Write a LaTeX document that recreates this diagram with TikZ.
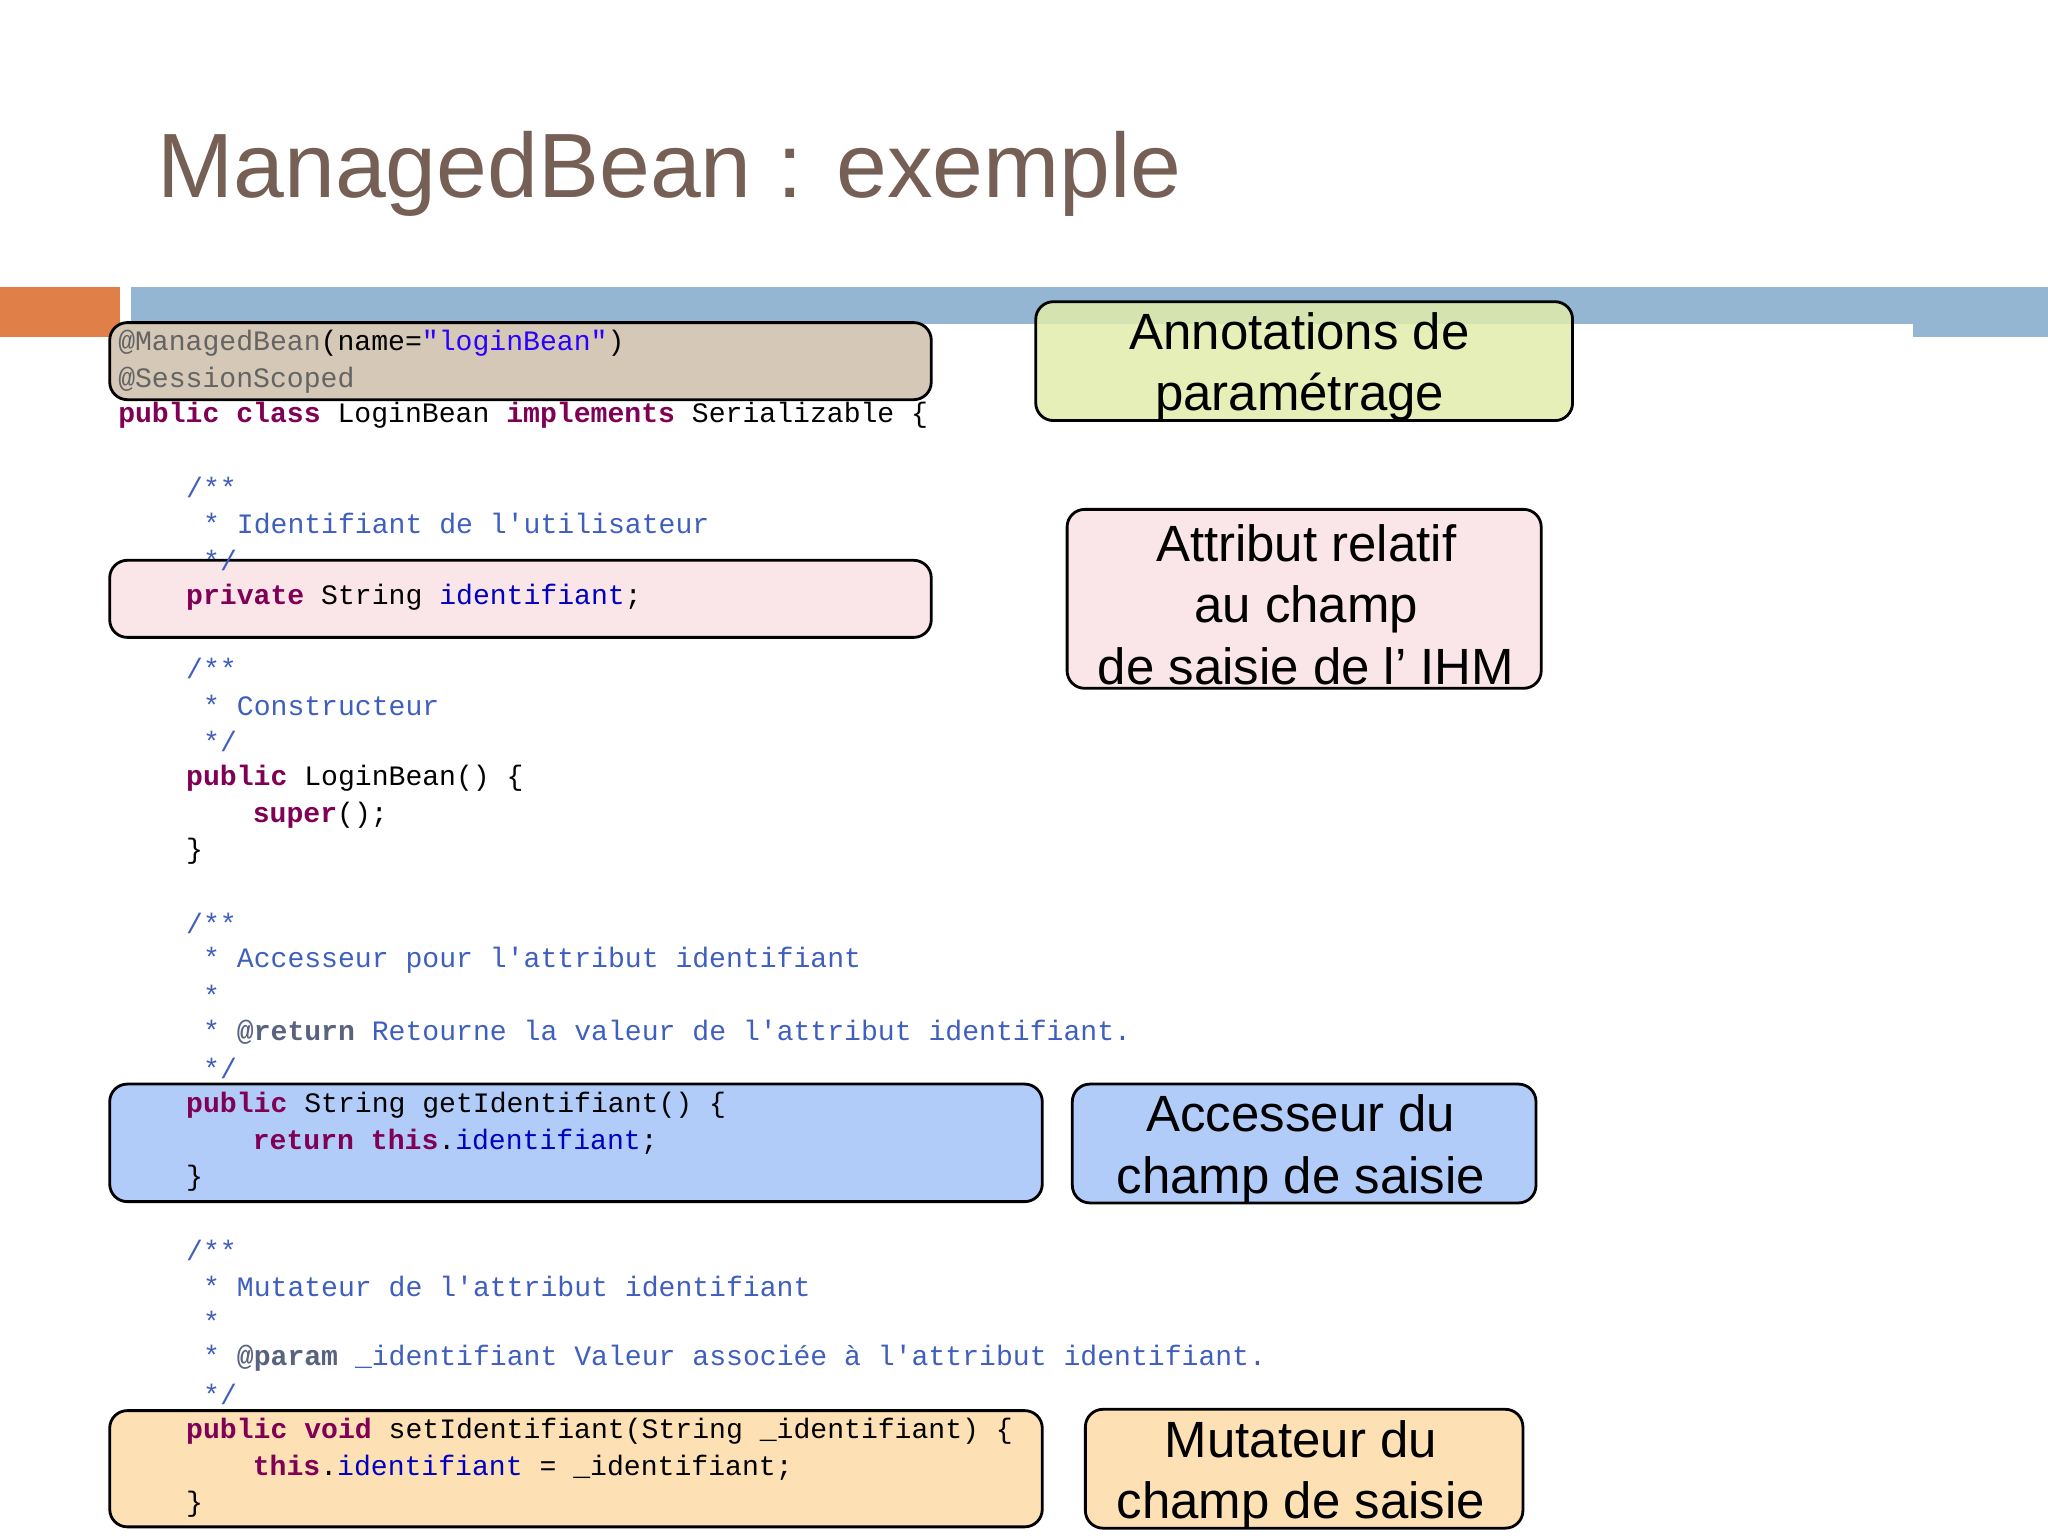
\documentclass[tikz,border=0pt]{standalone}
\usepackage{fontspec}
\setmainfont{Liberation Sans}
\newfontfamily\cmono{Liberation Mono}
\definecolor{titlec}{RGB}{118,96,86}
\definecolor{kwc}{RGB}{127,0,85}
\definecolor{cmc}{RGB}{63,95,191}
\definecolor{stc}{RGB}{42,0,255}
\definecolor{anc}{RGB}{100,100,100}
\definecolor{fdc}{RGB}{0,0,192}
\definecolor{barblue}{RGB}{148,182,210}
\definecolor{barorange}{RGB}{224,128,72}
\definecolor{tanf}{RGB}{213,200,182}
\definecolor{pinkf}{RGB}{250,230,232}
\definecolor{bluef}{RGB}{178,204,250}
\definecolor{orangef}{RGB}{253,224,180}
\definecolor{greenf}{RGB}{224,236,170}
\newcommand{\kw}[1]{\textcolor{kwc}{\bfseries #1}}
\newcommand{\cm}[1]{\textcolor{cmc}{#1}}
\newcommand{\fd}[1]{\textcolor{fdc}{#1}}
\tikzset{
  code/.style={anchor=west,inner sep=0pt,font=\cmono\fontsize{8pt}{9pt}\selectfont},
  hbox/.style={draw=black,line width=0.8pt,rounded corners=5pt},
  lbltext/.style={align=center,font=\fontsize{14.5pt}{17.5pt}\selectfont}
}
\begin{document}
\begin{tikzpicture}[x=0.013061cm,y=-0.013061cm]
\useasboundingbox (0,0) rectangle (1568,1176);
\node[anchor=base west,text=titlec,font=\fontsize{26pt}{28pt}\selectfont,inner sep=0pt] (title) at (120,151) {ManagedBean : exemple};
\fill[barorange] (0,220) rectangle (92,258);
\fill[barblue] (100,220) rectangle (1568,248);
\fill[barblue] (1465,248) rectangle (1568,258);
% code boxes
\draw[hbox,fill=tanf] (84,247) rectangle (713,306);
\draw[hbox,fill=pinkf] (84,429) rectangle (713,488);
\draw[hbox,fill=bluef] (84,830) rectangle (798,920);
\draw[hbox,fill=orangef] (84,1080) rectangle (798,1169);
% labels
\draw[hbox,fill=greenf,fill opacity=0.85] (793,231) rectangle (1204,322);
\node[lbltext] (la) at (995,281) {Annotations de\\paramétrage};
\draw[hbox,fill=pinkf] (817,390) rectangle (1180,527);
\node[lbltext] (lb) at (1000,463) {Attribut relatif\\au champ\\de saisie de l’ IHM};
\draw[hbox,fill=bluef] (821,830) rectangle (1176,921);
\node[lbltext] (lc) at (996,880) {Accesseur du\\champ de saisie};
\draw[hbox,fill=orangef] (831,1079) rectangle (1166,1170);
\node[lbltext] (ld) at (996,1129) {Mutateur du\\champ de saisie};
% code
\node[code] (c1) at (90,263) {\textcolor{anc}{@ManagedBean}(name=\textcolor{stc}{"loginBean"})};
\node[code] (c2) at (90,291) {\textcolor{anc}{@SessionScoped}};
\node[code] (c3) at (90,318) {\kw{public} \kw{class} LoginBean \kw{implements} Serializable \{};
\node[code] (c4) at (142,373) {\cm{/**}};
\node[code] (c5) at (155,401) {\cm{* Identifiant de l'utilisateur}};
\node[code] (c6) at (155,429) {\cm{*/}};
\node[code] (c7) at (142,457) {\kw{private} String \fd{identifiant};};
\node[code] (c8) at (142,512) {\cm{/**}};
\node[code] (c9) at (155,540) {\cm{* Constructeur}};
\node[code] (c10) at (155,568) {\cm{*/}};
\node[code] (c11) at (142,596) {\kw{public} LoginBean() \{};
\node[code] (c12) at (193,624) {\kw{super}();};
\node[code] (c13) at (142,652) {\}};
\node[code] (c14) at (142,707) {\cm{/**}};
\node[code] (c15) at (155,735) {\cm{* Accesseur pour l'attribut identifiant}};
\node[code] (c16) at (155,762) {\cm{*}};
\node[code] (c17) at (155,790) {\cm{* \textcolor{anc!70!cmc}{\bfseries @return} Retourne la valeur de l'attribut identifiant.}};
\node[code] (c18) at (155,818) {\cm{*/}};
\node[code] (c19) at (142,846) {\kw{public} String getIdentifiant() \{};
\node[code] (c20) at (193,874) {\kw{return} \kw{this}.\fd{identifiant};};
\node[code] (c21) at (142,902) {\}};
\node[code] (c22) at (142,957) {\cm{/**}};
\node[code] (c23) at (155,985) {\cm{* Mutateur de l'attribut identifiant}};
\node[code] (c24) at (155,1012) {\cm{*}};
\node[code] (c25) at (155,1040) {\cm{* \textcolor{anc!70!cmc}{\bfseries @param} \_identifiant Valeur associée à l'attribut identifiant.}};
\node[code] (c26) at (155,1068) {\cm{*/}};
\node[code] (c27) at (142,1096) {\kw{public} \kw{void} setIdentifiant(String \_identifiant) \{};
\node[code] (c28) at (193,1124) {\kw{this}.\fd{identifiant} = \_identifiant;};
\node[code] (c29) at (142,1152) {\}};
\end{tikzpicture}
\end{document}
